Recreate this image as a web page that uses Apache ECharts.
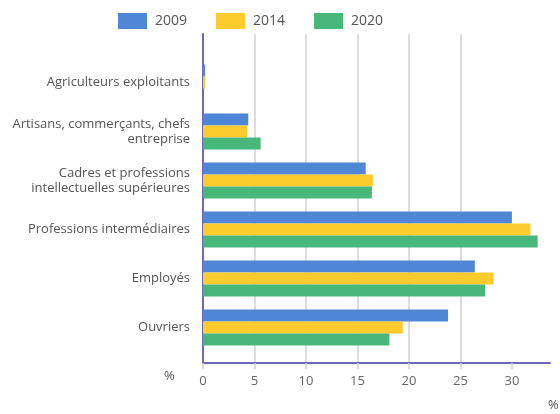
<!DOCTYPE html>
<html>
<head>
<meta charset="utf-8">
<script src="https://cdn.jsdelivr.net/npm/echarts@6/dist/echarts.min.js"></script>
<style>
  html, body { margin: 0; padding: 0; background: #fff; }
  #chart { width: 560px; height: 414px; }
</style>
</head>
<body>
<div id="chart"></div>
<script>
const categories = [
  'Agriculteurs exploitants',
  'Artisans, commerçants, chefs\nentreprise',
  'Cadres et professions\nintellectuelles supérieures',
  'Professions intermédiaires',
  'Employés',
  'Ouvriers'
]
const years = ['2009', '2014', '2020']
const values2009 = [0.2, 4.4, 15.8, 30.0, 26.4, 23.8]
const values2014 = [0.2, 4.3, 16.5, 31.8, 28.2, 19.4]
const values2020 = [0, 5.6, 16.4, 32.5, 27.4, 18.1]
const xTicks = [0, 5, 10, 15, 20, 25, 30]
const colors = ['#4f87d6', '#fecb2f', '#48b77a']

const chart = echarts.init(document.getElementById('chart'))
const font = '"Open Sans", sans-serif'
const xMax = 33.7

// grid 0 : barres, grid 1 : axes (plus haut que la zone des barres)
const option = {
  animation: false,
  color: colors,
  textStyle: { fontFamily: font },
  legend: {
    data: years,
    left: 118,
    top: 13,
    padding: 0,
    itemWidth: 29,
    itemHeight: 16,
    itemGap: 29,
    icon: 'rect',
    textStyle: { fontSize: 14, color: '#555', fontFamily: font, padding: [0, 0, 0, 3] }
  },
  grid: [
    { left: 203, right: 10, top: 58, bottom: 62 },
    { left: 203, right: 10, top: 34, bottom: 51 }
  ],
  xAxis: [
    { type: 'value', gridIndex: 0, min: 0, max: xMax, show: false },
    {
      type: 'value',
      gridIndex: 1,
      min: 0,
      max: xMax,
      interval: 5,
      axisLine: { show: true, lineStyle: { color: '#6d68b8', width: 2 } },
      axisTick: { show: true, customValues: xTicks, length: 6, lineStyle: { color: '#cfcfcf', width: 1.5 } },
      axisLabel: { customValues: xTicks, margin: 12, fontSize: 13, color: '#666', fontFamily: font },
      splitLine: { show: true, showMinLine: false, showMaxLine: false, lineStyle: { color: '#d2d2d2', width: 1.5 } }
    }
  ],
  yAxis: [
    {
      type: 'category',
      gridIndex: 0,
      data: categories,
      inverse: true,
      axisLine: { show: false },
      axisTick: { show: false },
      axisLabel: { margin: 13, fontSize: 13, lineHeight: 15, color: '#555', fontFamily: font }
    },
    {
      type: 'category',
      gridIndex: 1,
      data: categories,
      inverse: true,
      axisLine: { show: true, lineStyle: { color: '#6d68b8', width: 2 } },
      axisTick: { show: false },
      axisLabel: { show: false }
    }
  ],
  graphic: [
    { type: 'text', left: 164, top: 370, style: { text: '%', fontSize: 13, fill: '#555', fontFamily: font } },
    { type: 'text', left: 548, top: 399, style: { text: '%', fontSize: 13, fill: '#555', fontFamily: font } }
  ],
  series: [
    { name: '2009', type: 'bar', data: values2009, barWidth: 12, barGap: '0%' },
    { name: '2014', type: 'bar', data: values2014, barWidth: 12, barGap: '0%' },
    { name: '2020', type: 'bar', data: values2020, barWidth: 12, barGap: '0%' }
  ]
}
chart.setOption(option)
</script>
</body>
</html>
